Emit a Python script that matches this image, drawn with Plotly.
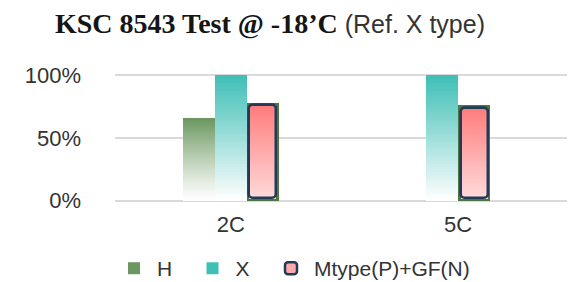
import plotly.graph_objects as go

# ---------------- data ----------------
CATEGORIES = ["2C", "5C"]
SERIES_NAMES = ["H", "X", "Mtype(P)+GF(N)"]
H_VALUES = [66, None]
X_VALUES = [100, 100]
M_VALUES = [78, 76]
Y_TICK_VALUES = [0, 50, 100]
Y_TICK_TEXT = ["0%", "50%", "100%"]
TITLE_MAIN = "KSC 8543 Test @ -18’C"
TITLE_SUB = "(Ref. X type)"

# ---------------- styling ----------------
# (the page body adds an 8px margin, so figure coordinates are page - 8)
W, H = 575, 282
M_L, M_R, M_T, M_B = 107, 9, 66, 88
Y_RANGE = [-1, 101]
X_RANGE = [-0.51, 1.51]
PLOT_W = W - M_L - M_R
PLOT_H = H - M_T - M_B
PX_X = PLOT_W / (X_RANGE[1] - X_RANGE[0])
PX_Y = PLOT_H / (Y_RANGE[1] - Y_RANGE[0])

BAR_W = 32 / PX_X
N_SEG = 48

GRAD = {
    "H": ((106, 150, 94), (255, 255, 255)),
    "X": ((62, 190, 182), (255, 255, 255)),
    "Mtype(P)+GF(N)": ((255, 124, 124), (255, 218, 218)),
}
GAMMA = {"H": 1.15, "X": 1.0, "Mtype(P)+GF(N)": 1.0}
M_BACK = "rgb(78,118,66)"
M_EDGE = "rgb(34,58,88)"
INSET_PX = 2.5
LEGEND_SYMBOL_X = {"H": 134.5, "X": 213, "Mtype(P)+GF(N)": 291.5}
LEGEND_IDS = {"H": "legend", "X": "legend2", "Mtype(P)+GF(N)": "legend3"}

values = {"H": H_VALUES, "X": X_VALUES, "Mtype(P)+GF(N)": M_VALUES}


def mix(top, bottom, t):
    return "rgb(%d,%d,%d)" % tuple(round(b + (a - b) * t) for a, b in zip(top, bottom))


# group offsets computed from which series are present in each category
offsets = {s: [None] * len(CATEGORIES) for s in SERIES_NAMES}
for ci, _ in enumerate(CATEGORIES):
    present = [s for s in SERIES_NAMES if values[s][ci] is not None]
    n = len(present)
    for i, s in enumerate(present):
        offsets[s][ci] = -n * BAR_W / 2 + i * BAR_W


def gradient_trace(name, inset_x=0.0, inset_y=0.0, showlegend=True):
    top, bottom = GRAD[name]
    xs, bases, ys, offs, cols = [], [], [], [], []
    for ci, cat in enumerate(CATEGORIES):
        v = values[name][ci]
        if v is None:
            continue
        lo, hi = inset_y, v - inset_y
        step = (hi - lo) / N_SEG
        for k in reversed(range(N_SEG)):
            t = ((k + 0.5) / N_SEG) ** GAMMA[name]
            xs.append(cat)
            bases.append(lo + k * step)
            ys.append(step * 1.02)
            offs.append(offsets[name][ci] + inset_x)
            cols.append(mix(top, bottom, t))
    return go.Bar(
        x=xs, y=ys, base=bases, offset=offs, width=BAR_W - 2 * inset_x,
        marker=dict(color=cols, line=dict(width=0)),
        name=name, showlegend=showlegend, legend=LEGEND_IDS[name], hoverinfo="skip",
    )


fig = go.Figure()

# H and X: gradient bars
fig.add_trace(gradient_trace("H"))
fig.add_trace(gradient_trace("X"))

# Mtype: green backing rectangle, pink rounded inner bar with navy edge
mname = "Mtype(P)+GF(N)"
m_idx = [i for i, v in enumerate(M_VALUES) if v is not None]
ix = INSET_PX / PX_X
iy = INSET_PX / PX_Y
fig.add_trace(go.Bar(
    x=[CATEGORIES[i] for i in m_idx], y=[M_VALUES[i] for i in m_idx],
    offset=[offsets[mname][i] for i in m_idx], width=BAR_W,
    marker=dict(color=M_BACK, line=dict(width=0)),
    showlegend=False, hoverinfo="skip",
))
fig.add_trace(go.Bar(
    x=[CATEGORIES[i] for i in m_idx], y=[M_VALUES[i] - 2 * iy for i in m_idx],
    base=[iy for _ in m_idx],
    offset=[offsets[mname][i] + ix for i in m_idx], width=BAR_W - 2 * ix,
    marker=dict(color="rgb(255,170,170)", line=dict(color=M_EDGE, width=2.5), cornerradius=4),
    name=mname, showlegend=True, legend=LEGEND_IDS[mname], hoverinfo="skip",
))
fig.add_trace(gradient_trace(mname, inset_x=ix, inset_y=iy, showlegend=False))
fig.add_trace(go.Bar(
    x=[CATEGORIES[i] for i in m_idx], y=[M_VALUES[i] - 2 * iy for i in m_idx],
    base=[iy for _ in m_idx],
    offset=[offsets[mname][i] + ix for i in m_idx], width=BAR_W - 2 * ix,
    marker=dict(color="rgba(0,0,0,0)", line=dict(color=M_EDGE, width=2.5), cornerradius=4),
    showlegend=False, hoverinfo="skip",
))

title_html = (
    "<span style='font-family:Liberation Serif;font-weight:bold;font-size:28px;fill:#151515'>"
    + TITLE_MAIN + "</span> " + TITLE_SUB
)

legend_common = dict(
    orientation="h", xanchor="left", y=-0.52, yanchor="middle",
    font=dict(size=21, color="#333333"), bgcolor="rgba(0,0,0,0)",
    itemwidth=36,
)
legend_layout = {}
for s in SERIES_NAMES:
    legend_layout[LEGEND_IDS[s]] = dict(
        legend_common, x=(LEGEND_SYMBOL_X[s] - 31.5 - M_L) / PLOT_W
    )

fig.update_layout(
    width=W, height=H,
    margin=dict(l=M_L, r=M_R, t=M_T, b=M_B, pad=0, autoexpand=False),
    paper_bgcolor="white", plot_bgcolor="white",
    barmode="overlay", bargap=0,
    font=dict(family="Liberation Sans, Arial, sans-serif", color="#333333"),
    title=dict(
        text=title_html, x=47 / W, xanchor="left", xref="container",
        y=1 - 16 / H, yanchor="middle",
        font=dict(family="Liberation Sans, Arial, sans-serif", size=25, color="#333333"),
    ),
    xaxis=dict(
        type="category", categoryorder="array", categoryarray=CATEGORIES,
        range=X_RANGE, showgrid=False, zeroline=False, showline=False,
        ticks="", tickfont=dict(size=22, color="#333333"), ticklabelstandoff=7,
        fixedrange=True,
    ),
    yaxis=dict(
        range=Y_RANGE, tickmode="array", tickvals=Y_TICK_VALUES, ticktext=Y_TICK_TEXT,
        showgrid=True, gridcolor="#d9d9d9", gridwidth=2,
        zeroline=True, zerolinecolor="#d9d9d9", zerolinewidth=2,
        showline=False, ticks="", tickfont=dict(size=22, color="#333333"),
        ticklabelstandoff=33, fixedrange=True,
    ),
    showlegend=True,
    **legend_layout,
)

fig.write_html("out.html")
